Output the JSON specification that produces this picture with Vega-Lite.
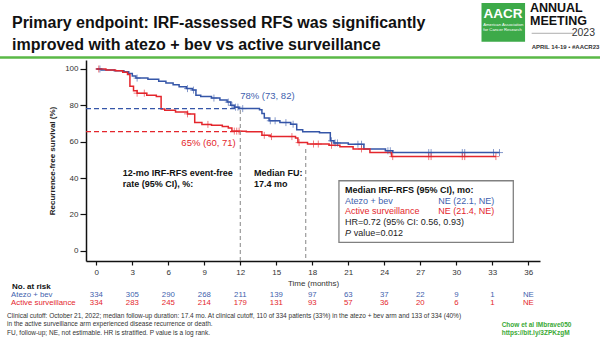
{
"$schema": "https://vega.github.io/schema/vega-lite/v6.json",
"width": 454, "height": 201,
"autosize": {"type": "none"},
"padding": {"left": 86, "top": 60, "right": 60, "bottom": 85},
"background": "white",
"config": {"font": "Liberation Sans", "view": {"stroke": null}, "axis": {"labelOverlap": false, "labelBound": false, "labelFlush": false}, "axisX": {"tickCount": 13}},
"data": {"values": [{}]},
"datasets": {
"km": [
{"arm":"Atezo + bev","month":0,"surv":100},{"arm":"Atezo + bev","month":0.4,"surv":99.5},{"arm":"Atezo + bev","month":1.5,"surv":99},{"arm":"Atezo + bev","month":2.3,"surv":98.5},{"arm":"Atezo + bev","month":2.7,"surv":97.5},{"arm":"Atezo + bev","month":3.0,"surv":96.2},{"arm":"Atezo + bev","month":3.3,"surv":95},{"arm":"Atezo + bev","month":4.3,"surv":94.3},{"arm":"Atezo + bev","month":5.2,"surv":93.3},{"arm":"Atezo + bev","month":5.8,"surv":92.3},{"arm":"Atezo + bev","month":6.4,"surv":91.3},{"arm":"Atezo + bev","month":6.9,"surv":90.2},{"arm":"Atezo + bev","month":7.5,"surv":89.2},{"arm":"Atezo + bev","month":8.0,"surv":88.4},{"arm":"Atezo + bev","month":8.3,"surv":85.5},{"arm":"Atezo + bev","month":8.7,"surv":84.8},{"arm":"Atezo + bev","month":9.6,"surv":84},{"arm":"Atezo + bev","month":10.3,"surv":83},{"arm":"Atezo + bev","month":10.9,"surv":81.8},{"arm":"Atezo + bev","month":11.2,"surv":80},{"arm":"Atezo + bev","month":11.5,"surv":79},{"arm":"Atezo + bev","month":11.9,"surv":78.2},{"arm":"Atezo + bev","month":13.6,"surv":77.6},{"arm":"Atezo + bev","month":13.8,"surv":75.5},{"arm":"Atezo + bev","month":14.0,"surv":73},{"arm":"Atezo + bev","month":14.4,"surv":71.5},{"arm":"Atezo + bev","month":15.3,"surv":70.5},{"arm":"Atezo + bev","month":16.2,"surv":69.6},{"arm":"Atezo + bev","month":16.7,"surv":66.5},{"arm":"Atezo + bev","month":17.2,"surv":65.5},{"arm":"Atezo + bev","month":18.6,"surv":64.9},{"arm":"Atezo + bev","month":19.5,"surv":60.5},{"arm":"Atezo + bev","month":19.8,"surv":59.3},{"arm":"Atezo + bev","month":21.0,"surv":58.6},{"arm":"Atezo + bev","month":22.3,"surv":56},{"arm":"Atezo + bev","month":24.1,"surv":55},{"arm":"Atezo + bev","month":24.7,"surv":54},{"arm":"Atezo + bev","month":33.6,"surv":54},
{"arm":"Active surveillance","month":0,"surv":100},{"arm":"Active surveillance","month":0.8,"surv":99.5},{"arm":"Active surveillance","month":1.6,"surv":99},{"arm":"Active surveillance","month":2.2,"surv":98.2},{"arm":"Active surveillance","month":2.6,"surv":97},{"arm":"Active surveillance","month":2.8,"surv":90.5},{"arm":"Active surveillance","month":3.1,"surv":88},{"arm":"Active surveillance","month":3.4,"surv":86.7},{"arm":"Active surveillance","month":4.2,"surv":85.6},{"arm":"Active surveillance","month":5.0,"surv":84.8},{"arm":"Active surveillance","month":5.4,"surv":78},{"arm":"Active surveillance","month":5.7,"surv":77.3},{"arm":"Active surveillance","month":6.6,"surv":76.3},{"arm":"Active surveillance","month":7.6,"surv":75.3},{"arm":"Active surveillance","month":8.2,"surv":70.5},{"arm":"Active surveillance","month":8.8,"surv":69.5},{"arm":"Active surveillance","month":9.6,"surv":69},{"arm":"Active surveillance","month":10.5,"surv":68.3},{"arm":"Active surveillance","month":11.0,"surv":67.5},{"arm":"Active surveillance","month":11.3,"surv":65.8},{"arm":"Active surveillance","month":12.5,"surv":65.5},{"arm":"Active surveillance","month":13.8,"surv":63.5},{"arm":"Active surveillance","month":14.5,"surv":62.8},{"arm":"Active surveillance","month":16.6,"surv":62},{"arm":"Active surveillance","month":16.8,"surv":59.5},{"arm":"Active surveillance","month":17.6,"surv":58.7},{"arm":"Active surveillance","month":19.4,"surv":58},{"arm":"Active surveillance","month":20.3,"surv":57.2},{"arm":"Active surveillance","month":21.4,"surv":56},{"arm":"Active surveillance","month":22.8,"surv":54},{"arm":"Active surveillance","month":24.6,"surv":51.8},{"arm":"Active surveillance","month":33.3,"surv":51.8}
],
"censor": [
{"arm":"Atezo + bev","month":0.3,"surv":100},{"arm":"Atezo + bev","month":3.4,"surv":95},{"arm":"Atezo + bev","month":7.6,"surv":89.2},{"arm":"Atezo + bev","month":8.1,"surv":88.4},{"arm":"Atezo + bev","month":9.8,"surv":84},{"arm":"Atezo + bev","month":11.0,"surv":81.8},{"arm":"Atezo + bev","month":11.3,"surv":80},{"arm":"Atezo + bev","month":11.6,"surv":79},{"arm":"Atezo + bev","month":11.8,"surv":79},{"arm":"Atezo + bev","month":12.2,"surv":78.2},{"arm":"Atezo + bev","month":14.5,"surv":71.5},{"arm":"Atezo + bev","month":14.9,"surv":71.5},{"arm":"Atezo + bev","month":15.8,"surv":70.5},{"arm":"Atezo + bev","month":16.4,"surv":69.6},{"arm":"Atezo + bev","month":19.6,"surv":60.5},{"arm":"Atezo + bev","month":19.9,"surv":59.3},{"arm":"Atezo + bev","month":20.1,"surv":59.3},{"arm":"Atezo + bev","month":21.8,"surv":58.6},{"arm":"Atezo + bev","month":22.1,"surv":58.6},{"arm":"Atezo + bev","month":24.3,"surv":55},{"arm":"Atezo + bev","month":24.5,"surv":55},{"arm":"Atezo + bev","month":27.7,"surv":54},{"arm":"Atezo + bev","month":27.9,"surv":54},{"arm":"Atezo + bev","month":30.5,"surv":54},{"arm":"Atezo + bev","month":30.7,"surv":54},{"arm":"Atezo + bev","month":33.1,"surv":54},{"arm":"Atezo + bev","month":33.6,"surv":54},
{"arm":"Active surveillance","month":0.2,"surv":100},{"arm":"Active surveillance","month":3.4,"surv":86.7},{"arm":"Active surveillance","month":4.0,"surv":86.7},{"arm":"Active surveillance","month":7.6,"surv":75.3},{"arm":"Active surveillance","month":9.3,"surv":69.5},{"arm":"Active surveillance","month":11.5,"surv":65.8},{"arm":"Active surveillance","month":11.7,"surv":65.8},{"arm":"Active surveillance","month":11.9,"surv":65.8},{"arm":"Active surveillance","month":14.0,"surv":63.5},{"arm":"Active surveillance","month":14.6,"surv":62.8},{"arm":"Active surveillance","month":16.3,"surv":62.8},{"arm":"Active surveillance","month":16.9,"surv":59.5},{"arm":"Active surveillance","month":18.1,"surv":58.7},{"arm":"Active surveillance","month":18.5,"surv":58.7},{"arm":"Active surveillance","month":19.6,"surv":58},{"arm":"Active surveillance","month":22.1,"surv":56},{"arm":"Active surveillance","month":24.7,"surv":51.8},{"arm":"Active surveillance","month":27.7,"surv":51.8},{"arm":"Active surveillance","month":27.9,"surv":51.8},{"arm":"Active surveillance","month":30.5,"surv":51.8},{"arm":"Active surveillance","month":30.7,"surv":51.8},{"arm":"Active surveillance","month":33.3,"surv":51.8}
],
"risk": [
{"arm":"Atezo + bev","month":0,"n":"334"},{"arm":"Atezo + bev","month":3,"n":"305"},{"arm":"Atezo + bev","month":6,"n":"290"},{"arm":"Atezo + bev","month":9,"n":"268"},{"arm":"Atezo + bev","month":12,"n":"211"},{"arm":"Atezo + bev","month":15,"n":"139"},{"arm":"Atezo + bev","month":18,"n":"97"},{"arm":"Atezo + bev","month":21,"n":"63"},{"arm":"Atezo + bev","month":24,"n":"37"},{"arm":"Atezo + bev","month":27,"n":"22"},{"arm":"Atezo + bev","month":30,"n":"9"},{"arm":"Atezo + bev","month":33,"n":"1"},{"arm":"Atezo + bev","month":36,"n":"NE"},
{"arm":"Active surveillance","month":0,"n":"334"},{"arm":"Active surveillance","month":3,"n":"283"},{"arm":"Active surveillance","month":6,"n":"245"},{"arm":"Active surveillance","month":9,"n":"214"},{"arm":"Active surveillance","month":12,"n":"179"},{"arm":"Active surveillance","month":15,"n":"131"},{"arm":"Active surveillance","month":18,"n":"93"},{"arm":"Active surveillance","month":21,"n":"57"},{"arm":"Active surveillance","month":24,"n":"36"},{"arm":"Active surveillance","month":27,"n":"20"},{"arm":"Active surveillance","month":30,"n":"6"},{"arm":"Active surveillance","month":33,"n":"1"},{"arm":"Active surveillance","month":36,"n":"NE"}
]
},
"layer": [
{"data": {"name": "km"},
 "mark": {"type": "line", "interpolate": "step-after", "strokeWidth": 1.5},
 "encoding": {
  "x": {"field": "month", "type": "quantitative", "scale": {"domain": [-0.86, 36.975], "nice": false, "zero": false},
   "axis": {"values": [0,3,6,9,12,15,18,21,24,27,30,33,36], "tickCount": 13, "format": "d", "title": "Time (months)", "grid": false, "domainColor": "#111", "domainWidth": 1.5, "tickColor": "#111", "tickWidth": 1.2, "tickSize": 4, "labelFontSize": 8, "labelColor": "#333", "labelPadding": 3, "labelFlush": false, "labelOverlap": false, "titleFontSize": 8, "titleFontWeight": "normal", "titleColor": "#333", "titlePadding": 3}},
  "y": {"field": "surv", "type": "quantitative", "scale": {"domain": [-5.67, 104.95], "nice": false, "zero": false},
   "axis": {"values": [0,20,40,60,80,100], "format": "d", "title": "Recurrence-free survival (%)", "grid": false, "domainColor": "#111", "domainWidth": 1.5, "tickColor": "#111", "tickWidth": 1.2, "tickSize": 6, "labelFontSize": 8, "labelColor": "#333", "labelPadding": 2, "labelFlush": false, "labelOverlap": false, "titleFontSize": 8, "titleFontWeight": "bold", "titleColor": "#222", "titlePadding": 8}},
  "color": {"field": "arm", "type": "nominal", "scale": {"domain": ["Active surveillance", "Atezo + bev"], "range": ["#e4262c", "#3556a8"]}, "legend": null}
 }},
{"mark": {"type": "rule", "color": "#3556a8", "strokeDash": [5, 3], "strokeWidth": 1.3},
 "encoding": {"x": {"datum": -0.86}, "x2": {"datum": 12}, "y": {"datum": 78.2}}},
{"mark": {"type": "rule", "color": "#e4262c", "strokeDash": [5, 3], "strokeWidth": 1.3},
 "encoding": {"x": {"datum": -0.86}, "x2": {"datum": 12}, "y": {"datum": 65.5}}},
{"mark": {"type": "rule", "color": "#9a9a9a", "strokeDash": [4, 3], "strokeWidth": 1.2},
 "encoding": {"x": {"datum": 12}, "y": {"datum": 77.4}, "y2": {"datum": -5.67}}},
{"mark": {"type": "rule", "color": "#9a9a9a", "strokeDash": [4, 3], "strokeWidth": 1.2},
 "encoding": {"x": {"datum": 17.45}, "y": {"datum": 56}, "y2": {"datum": -5.67}}},
{"data": {"name": "censor"},
 "mark": {"type": "point", "shape": "M-1,0L1,0M0,-1L0,1", "filled": false, "size": 49, "strokeWidth": 0.8, "opacity": 0.75},
 "encoding": {"x": {"field": "month", "type": "quantitative", "axis": {"tickCount": 13}}, "y": {"field": "surv", "type": "quantitative"}, "color": {"field": "arm", "type": "nominal", "legend": null}}},
{"mark": {"type": "text", "text": "78% (73, 82)", "align": "left", "baseline": "middle", "fontSize": 9.5, "color": "#3f5fae"},
 "encoding": {"x": {"datum": 11.99}, "y": {"datum": 85.1}}},
{"mark": {"type": "text", "text": "65% (60, 71)", "align": "right", "baseline": "middle", "fontSize": 9.5, "color": "#e4262c"},
 "encoding": {"x": {"datum": 11.62}, "y": {"datum": 59.5}}},
{"mark": {"type": "text", "text": ["12-mo IRF-RFS event-free", "rate (95% CI), %:"], "align": "left", "baseline": "top", "fontSize": 9, "fontWeight": "bold", "lineHeight": 10.7, "color": "#111"},
 "encoding": {"x": {"datum": 2.2}, "y": {"datum": 44.7}}},
{"mark": {"type": "text", "text": ["Median FU:", "17.4 mo"], "align": "left", "baseline": "top", "fontSize": 9, "fontWeight": "bold", "lineHeight": 10.7, "color": "#111"},
 "encoding": {"x": {"datum": 13.14}, "y": {"datum": 44.7}}},
{"mark": {"type": "rect", "fill": "white", "stroke": "#808080", "strokeWidth": 1.3},
 "encoding": {"x": {"datum": 20.22}, "x2": {"datum": 34.75}, "y": {"datum": 38.5}, "y2": {"datum": 4.62}}},
{"mark": {"type": "text", "text": "Median IRF-RFS (95% CI), mo:", "align": "left", "baseline": "middle", "fontSize": 9, "fontWeight": "bold", "color": "#111"},
 "encoding": {"x": {"datum": 20.73}, "y": {"datum": 33.4}}},
{"mark": {"type": "text", "text": "Atezo + bev", "align": "left", "baseline": "middle", "fontSize": 9, "color": "#3f5fae"},
 "encoding": {"x": {"datum": 20.73}, "y": {"datum": 27.5}}},
{"mark": {"type": "text", "text": "NE (22.1, NE)", "align": "left", "baseline": "middle", "fontSize": 9, "color": "#3f5fae"},
 "encoding": {"x": {"datum": 28.5}, "y": {"datum": 27.5}}},
{"mark": {"type": "text", "text": "Active surveillance", "align": "left", "baseline": "middle", "fontSize": 9, "color": "#e4262c"},
 "encoding": {"x": {"datum": 20.73}, "y": {"datum": 21.7}}},
{"mark": {"type": "text", "text": "NE (21.4, NE)", "align": "left", "baseline": "middle", "fontSize": 9, "color": "#e4262c"},
 "encoding": {"x": {"datum": 28.5}, "y": {"datum": 21.7}}},
{"mark": {"type": "text", "text": "HR=0.72 (95% CI: 0.56, 0.93)", "align": "left", "baseline": "middle", "fontSize": 9, "color": "#222"},
 "encoding": {"x": {"datum": 20.73}, "y": {"datum": 15.8}}},
{"mark": {"type": "text", "text": "P", "align": "left", "baseline": "middle", "fontSize": 9, "fontStyle": "italic", "color": "#222"},
 "encoding": {"x": {"datum": 20.73}, "y": {"datum": 9.74}}},
{"mark": {"type": "text", "text": "value=0.012", "align": "left", "baseline": "middle", "fontSize": 9, "color": "#222"},
 "encoding": {"x": {"datum": 21.45}, "y": {"datum": 9.74}}},
{"mark": {"type": "text", "text": "No. at risk", "align": "left", "baseline": "middle", "fontSize": 8, "fontWeight": "bold", "color": "#111"},
 "encoding": {"x": {"datum": -7.03}, "y": {"datum": -19.8}}},
{"mark": {"type": "text", "text": "Atezo + bev", "align": "left", "baseline": "middle", "fontSize": 7.8, "color": "#3f5fae"},
 "encoding": {"x": {"datum": -7.1}, "y": {"datum": -24.4}}},
{"mark": {"type": "text", "text": "Active surveillance", "align": "left", "baseline": "middle", "fontSize": 7.8, "color": "#e4262c"},
 "encoding": {"x": {"datum": -7.1}, "y": {"datum": -28.95}}},
{"data": {"name": "risk"}, "transform": [{"filter": "datum.arm === 'Atezo + bev'"}],
 "mark": {"type": "text", "align": "center", "baseline": "middle", "fontSize": 7.8, "color": "#3f5fae"},
 "encoding": {"x": {"field": "month", "type": "quantitative", "axis": {"tickCount": 13}}, "y": {"datum": -24.4}, "text": {"field": "n", "type": "nominal"}}},
{"data": {"name": "risk"}, "transform": [{"filter": "datum.arm === 'Active surveillance'"}],
 "mark": {"type": "text", "align": "center", "baseline": "middle", "fontSize": 7.8, "color": "#e4262c"},
 "encoding": {"x": {"field": "month", "type": "quantitative", "axis": {"tickCount": 13}}, "y": {"datum": -28.95}, "text": {"field": "n", "type": "nominal"}}},
{"mark": {"type": "text", "text": ["Clinical cutoff: October 21, 2022; median follow-up duration: 17.4 mo. At clinical cutoff, 110 of 334 patients (33%) in the atezo + bev arm and 133 of 334 (40%)", "in the active surveillance arm experienced disease recurrence or death.", "FU, follow-up; NE, not estimable. HR is stratified. P value is a log rank."], "align": "left", "baseline": "top", "fontSize": 6.5, "lineHeight": 8.15, "color": "#333"},
 "encoding": {"x": {"datum": -7.44}, "y": {"datum": -34.4}}},
{"mark": {"type": "text", "text": ["Chow et al IMbrave050", "https://bit.ly/3ZPKzgM"], "align": "left", "baseline": "top", "fontSize": 6.5, "fontWeight": "bold", "lineHeight": 8.3, "color": "#3aa935"},
 "encoding": {"x": {"datum": 33.78}, "y": {"datum": -39.35}}},
{"mark": {"type": "text", "text": ["Primary endpoint: IRF-assessed RFS was significantly", "improved with atezo + bev vs active surveillance"], "align": "left", "baseline": "top", "fontSize": 16, "fontWeight": "bold", "lineHeight": 21.2, "color": "#111"},
 "encoding": {"x": {"datum": -7.03}, "y": {"datum": 129.5}}},
{"mark": {"type": "rule", "color": "#5ab946", "strokeWidth": 2.5},
 "encoding": {"x": {"datum": -8.03}, "x2": {"datum": 41.98}, "y": {"datum": 106.3}}},
{"mark": {"type": "rect", "fill": "#3daa49"},
 "encoding": {"x": {"datum": 32.1}, "x2": {"datum": 35.73}, "y": {"datum": 136.3}, "y2": {"datum": 115.0}}},
{"mark": {"type": "text", "text": "AACR", "align": "center", "baseline": "middle", "fontSize": 13.5, "fontWeight": "bold", "color": "white"},
 "encoding": {"x": {"datum": 33.89}, "y": {"datum": 130.3}}},
{"mark": {"type": "text", "text": ["American Association", "for Cancer Research"], "align": "left", "baseline": "top", "fontSize": 4.2, "lineHeight": 4.4, "color": "white"},
 "encoding": {"x": {"datum": 32.25}, "y": {"datum": 125.2}}},
{"mark": {"type": "text", "text": "ANNUAL", "align": "left", "baseline": "middle", "fontSize": 12.5, "fontWeight": "bold", "color": "#111"},
 "encoding": {"x": {"datum": 36.14}, "y": {"datum": 133.8}}},
{"mark": {"type": "text", "text": "MEETING", "align": "left", "baseline": "middle", "fontSize": 12.5, "fontWeight": "bold", "color": "#111"},
 "encoding": {"x": {"datum": 36.14}, "y": {"datum": 126.6}}},
{"mark": {"type": "rule", "color": "#999", "strokeWidth": 0.8},
 "encoding": {"x": {"datum": 36.28}, "x2": {"datum": 39.75}, "y": {"datum": 119.65}}},
{"mark": {"type": "text", "text": "2023", "align": "right", "baseline": "middle", "fontSize": 10.5, "color": "#333"},
 "encoding": {"x": {"datum": 41.56}, "y": {"datum": 119.6}}},
{"mark": {"type": "text", "text": "APRIL 14-19 • #AACR23", "align": "left", "baseline": "middle", "fontSize": 6, "fontWeight": "bold", "color": "#333"},
 "encoding": {"x": {"datum": 36.28}, "y": {"datum": 112.27}}}
]
}
